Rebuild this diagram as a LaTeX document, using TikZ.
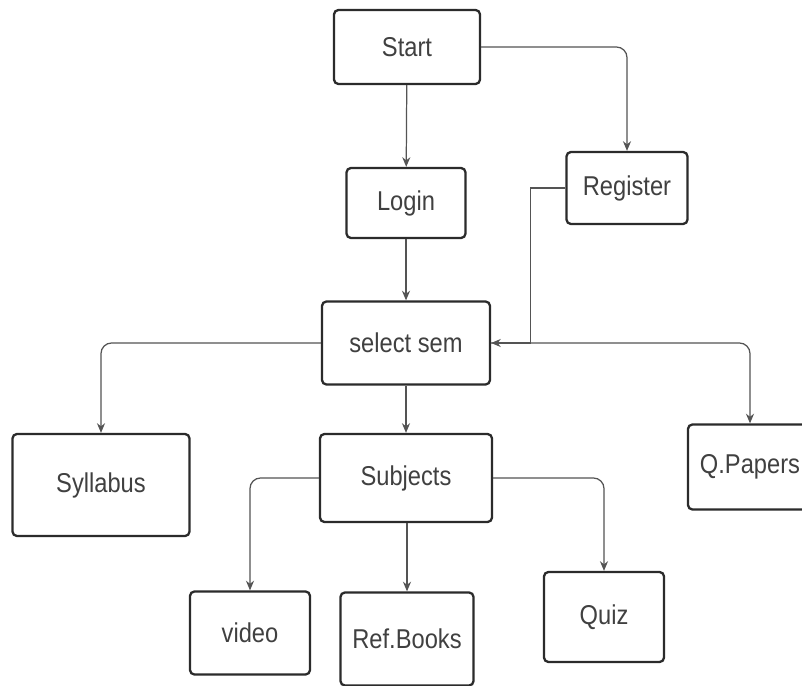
\documentclass[tikz,border=0pt]{standalone}
\usepackage{fontspec}
\setmainfont[FakeStretch=0.87]{Liberation Sans}
\usetikzlibrary{calc}
\usetikzlibrary{arrows.meta}
\usetikzlibrary{positioning}
\definecolor{box-gray}{gray}{0.17}
\definecolor{text-gray}{gray}{0.25}
\definecolor{line-gray}{gray}{0.33}

\begin{document}
\begin{tikzpicture}
  [
    x = 0.02cm, y = -0.02cm,
    block/.style = {draw=box-gray, line width=1.3pt, rounded corners=2.5pt, fill=white,
                    text=text-gray, inner sep=0pt,
                    font=\fontsize{15.5}{18}\selectfont},
    link/.style  = {draw=line-gray, line width=0.7pt, rounded corners=6pt,
                    -{Stealth[length=5.5pt, width=4.6pt]}}
  ]
% Frame (pixels of the reference)
\clip (0, 0) rectangle (802, 686);
\fill[white] (0, 0) rectangle (802, 686);

% ---------------------------------------------------
% Boxes
\node[block, minimum width=146*0.02cm, minimum height=74*0.02cm] (start) at (407,  47) {Start};
\node[block, minimum width=119*0.02cm, minimum height=70*0.02cm] (login) at (406, 203) {Login};
\node[block, minimum width=121*0.02cm, minimum height=72*0.02cm] (reg)   at (627, 188) {Register};
\node[block, minimum width=168*0.02cm, minimum height=83*0.02cm] (sem)   at (406, 343) {select sem};
\node[block, minimum width=177*0.02cm, minimum height=102*0.02cm] (syl)  at (101, 485) {Syllabus};
\node[block, minimum width=172*0.02cm, minimum height=88*0.02cm] (subj)  at (406, 478) {Subjects};
\node[block, minimum width=124*0.02cm, minimum height=85*0.02cm] (qp)    at (750, 467) {Q.Papers};
\node[block, minimum width=120*0.02cm, minimum height=83*0.02cm] (vid)   at (250, 633) {video};
\node[block, minimum width=133*0.02cm, minimum height=93*0.02cm] (books) at (407, 639) {Ref.Books};
\node[block, minimum width=120*0.02cm, minimum height=90*0.02cm] (quiz)  at (604, 617) {Quiz};

% ---------------------------------------------------
% Top part
\draw[link] (start) -- (login);
\draw[link] (start.east) -| (reg.north);
\draw[link] (login) -- (sem);
% Register joins select sem from the right
\coordinate[] (join) at ($ (sem.east) + (39, 0) $);
\draw[link, rounded corners=0pt] (reg.west) -| (join) -- (sem.east);

% Middle part
\draw[link] (sem.west) -| (syl.north);
\draw[link] (sem.east) -| (qp.north);
\draw[link] (sem) -- (subj);

% Bottom part
\draw[link] (subj.west) -| (vid.north);
\draw[link] (subj.south -| books.north) -- (books.north);
\draw[link] (subj.east) -| (quiz.north);
% ---------------------------------------------------
\end{tikzpicture}
\end{document}
